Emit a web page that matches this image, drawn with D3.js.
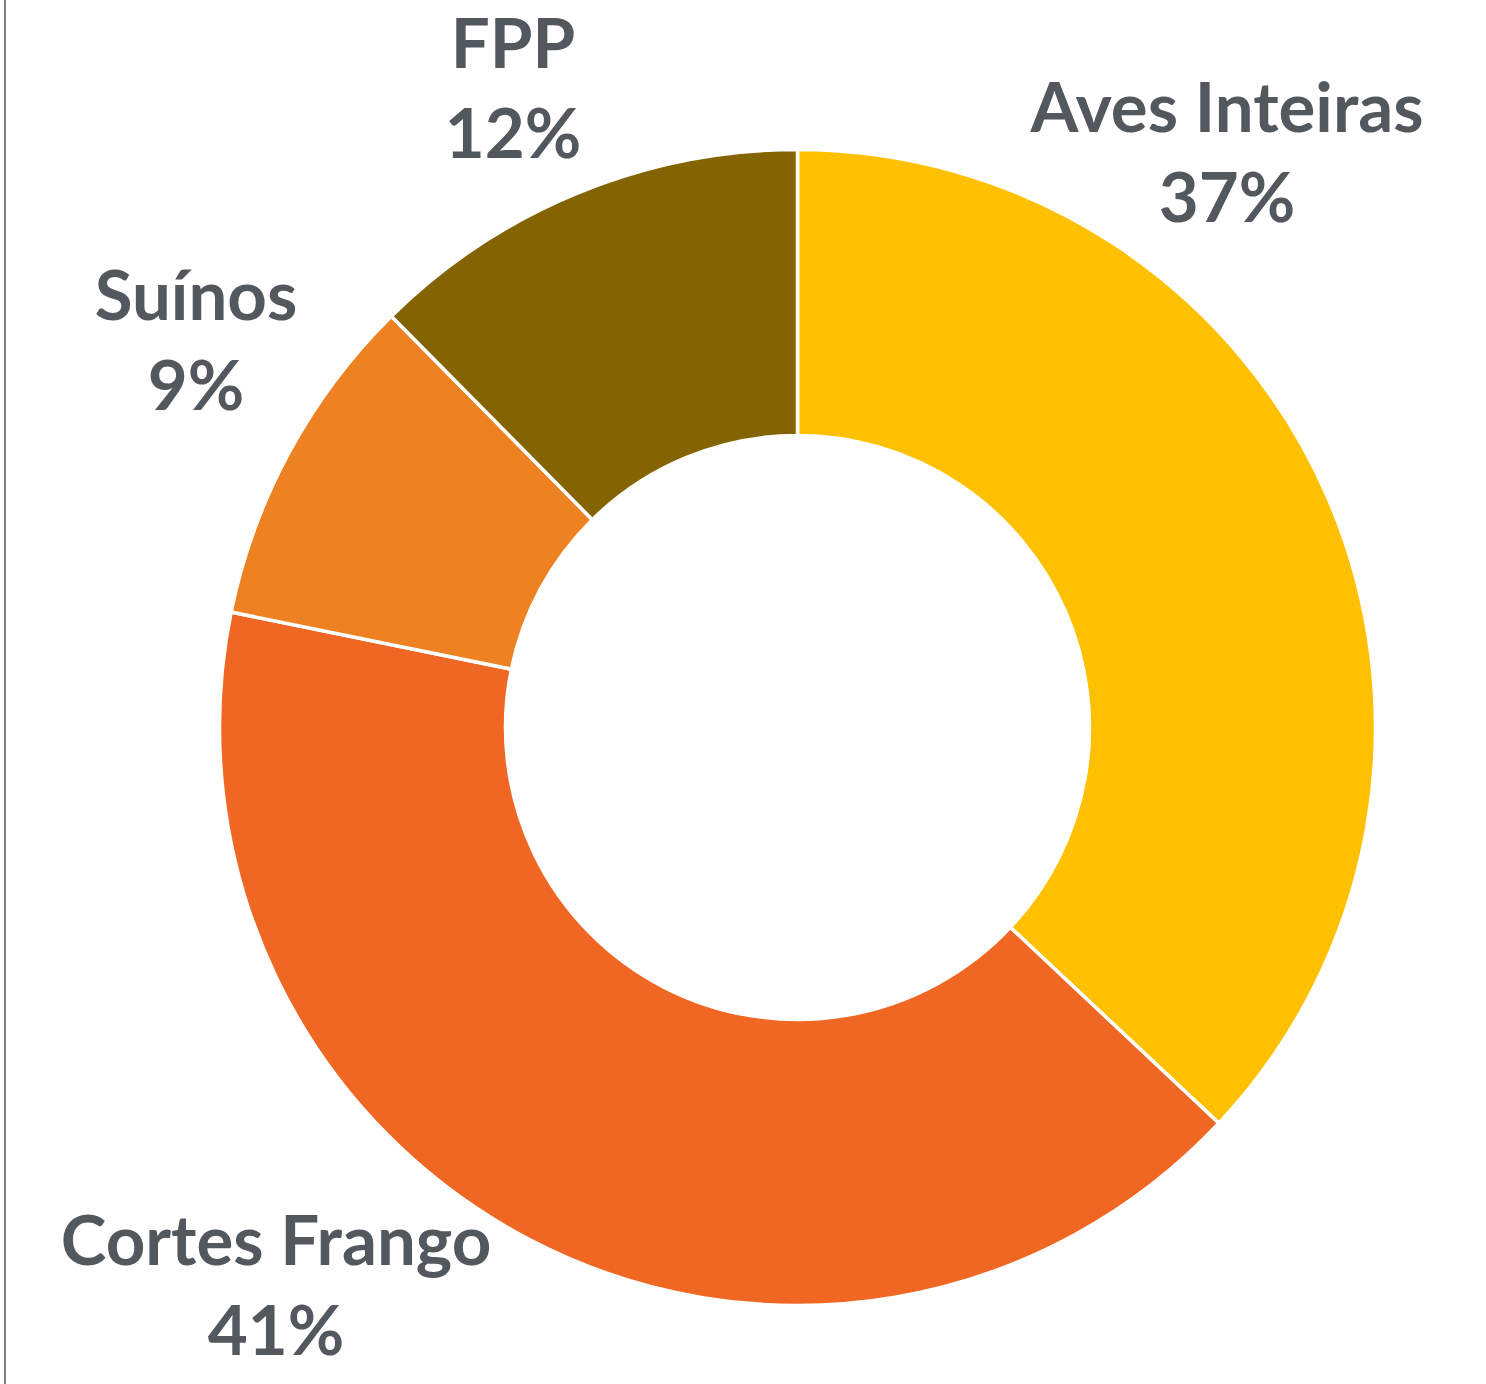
<!DOCTYPE html>
<html>
<head>
<meta charset="utf-8">
<script src="https://cdn.jsdelivr.net/npm/d3@7.9.0/dist/d3.min.js"></script>
<style>
  body { margin: 0; background: #fff; }
  svg { display: block; }
  .lbl { font-family: Lato, "Open Sans", sans-serif; font-weight: 700; fill: #53575e; }
</style>
</head>
<body>
<svg width="1486" height="1384"></svg>
<script>
// slices, clockwise from 12 o'clock
const categories = ['Aves Inteiras', 'Cortes Frango', 'Suínos', 'FPP'];
const shares = [37.0, 41.2, 9.4, 12.4];
const pctLabels = ['37%', '41%', '9%', '12%'];
const colors = ['#ffc000', '#f06623', '#ee8122', '#846402'];

// where Excel parked each label (center x, baseline of first line)
const labelX = [1227, 276, 196, 513];
const labelY = [132, 1265, 320, 68];

const W = 1486, H = 1384;
const cx = 797.5, cy = 727.5;
const svg = d3.select('svg');

// left border line
svg.append('line')
  .attr('x1', 5).attr('x2', 5)
  .attr('y1', 0).attr('y2', H)
  .attr('stroke', '#808080')
  .attr('stroke-width', 2);

let data = categories.map((c, i) => ({ label: c, value: shares[i], pct: pctLabels[i] }));

let pie = d3.pie().sort(null).value(d => d.value);
let arcGen = d3.arc().innerRadius(292).outerRadius(578);

let g = svg.append('g').attr('transform', `translate(${cx},${cy})`);
g.selectAll('path')
  .data(pie(data))
  .join('path')
  .attr('d', arcGen)
  .attr('fill', (d, i) => colors[i])
  .attr('stroke', '#fff')
  .attr('stroke-width', 3.5)
  .attr('stroke-linejoin', 'miter');

// labels: name on first line, percent below
data.forEach((d, i) => {
  let t = svg.append('text')
    .attr('class', 'lbl')
    .attr('text-anchor', 'middle')
    .attr('font-size', 69)
    .attr('transform', `translate(${labelX[i]},${labelY[i]})`);
  t.append('tspan').attr('x', 0).attr('y', 0).text(d.label);
  t.append('tspan').attr('x', 0).attr('y', 90).text(d.pct);
});
</script>
</body>
</html>
